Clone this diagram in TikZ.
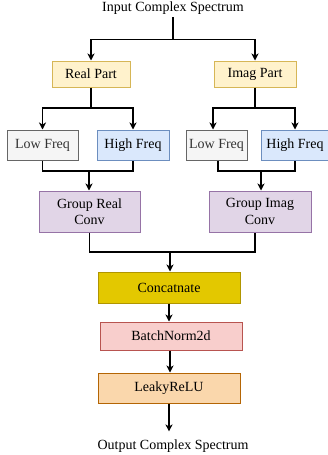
\documentclass[tikz,border=0pt]{standalone}
\usepackage{fontspec}
\setmainfont{Liberation Serif}
\usetikzlibrary{arrows.meta}
\definecolor{partF}{HTML}{FFF2CC}\definecolor{partD}{HTML}{D6B656}
\definecolor{lowF}{HTML}{F5F5F5}\definecolor{lowD}{HTML}{666666}\definecolor{lowT}{HTML}{333333}
\definecolor{highF}{HTML}{DAE8FC}\definecolor{highD}{HTML}{6C8EBF}
\definecolor{grpF}{HTML}{E1D5E7}\definecolor{grpD}{HTML}{9673A6}
\definecolor{catF}{HTML}{E3C800}\definecolor{catD}{HTML}{B09500}
\definecolor{bnF}{HTML}{F8CECC}\definecolor{bnD}{HTML}{B85450}
\definecolor{lrF}{HTML}{FAD7AC}\definecolor{lrD}{HTML}{B46504}
\tikzset{
  box/.style={draw, line width=1pt, inner sep=0pt, align=center,
    font=\fontsize{14pt}{16.5pt}\selectfont},
  txt/.style={inner xsep=0pt, inner ysep=2pt, font=\fontsize{14pt}{16.5pt}\selectfont},
  partbox/.style={box, fill=partF, draw=partD},
  lowbox/.style={box, fill=lowF, draw=lowD, text=lowT},
  highbox/.style={box, fill=highF, draw=highD},
  grpbox/.style={box, fill=grpF, draw=grpD},
  catbox/.style={box, fill=catF, draw=catD},
  bnbox/.style={box, fill=bnF, draw=bnD},
  lrbox/.style={box, fill=lrF, draw=lrD},
  conn/.style={line width=1.1pt, black},
  arr/.style={conn, -{Stealth[length=7pt,width=7pt,inset=2pt]}}
}
\begin{document}
\begin{tikzpicture}[x=1pt,y=-1pt]
\useasboundingbox (0,0) rectangle (328,455);
\node[txt] (in) at (173,8.5) {Input Complex Spectrum};
\node[partbox, minimum width=78pt, minimum height=26pt] (real) at (91,74) {Real Part};
\node[partbox, minimum width=82pt, minimum height=26pt] (imag) at (255,74) {Imag Part};
\node[lowbox, minimum width=71pt, minimum height=30pt] (lowL) at (42.5,145) {Low Freq};
\node[highbox, minimum width=72pt, minimum height=30pt] (highL) at (133,145) {High Freq};
\node[lowbox, minimum width=61pt, minimum height=30pt] (lowR) at (216.5,145) {Low Freq};
\node[highbox, minimum width=67pt, minimum height=30pt] (highR) at (295,145) {High Freq};
\node[grpbox, minimum width=101pt, minimum height=41pt] (grc) at (89.5,211.5) {Group Real\\Conv};
\node[grpbox, minimum width=102pt, minimum height=41pt] (gic) at (260,211.5) {Group Imag\\Conv};
\node[catbox, minimum width=142pt, minimum height=31pt] (cat) at (169,287.5) {Concatnate};
\node[bnbox, minimum width=142pt, minimum height=28pt] (bn) at (171,336) {BatchNorm2d};
\node[lrbox, minimum width=142pt, minimum height=30pt] (lr) at (169,388) {LeakyReLU};
\node[txt, inner ysep=8pt] (out) at (173,446) {Output Complex Spectrum};
\coordinate (j1) at (173,39.5);
\coordinate (j2) at (91,108);
\coordinate (j3) at (255,108);
\coordinate (j4) at (89,171);
\coordinate (j5) at (261,171);
\coordinate (j6) at (170,252);
\draw[conn] (in.south) -- (j1);
\draw[arr] (j1) -| (real.north);
\draw[arr] (j1) -| (imag.north);
\draw[conn] (real.south) -- (j2);
\draw[arr] (j2) -| (lowL.north);
\draw[arr] (j2) -| (highL.north);
\draw[conn] (imag.south) -- (j3);
\draw[arr] (j3) -| ([xshift=-3.5pt]lowR.north);
\draw[arr] (j3) -| (highR.north);
\draw[conn] (lowL.south) |- (j4) -| (highL.south);
\draw[arr] (j4) -- (j4 |- grc.north);
\draw[conn] ([xshift=1.5pt]lowR.south) |- (j5) -| (highR.south);
\draw[arr] (j5) -- (j5 |- gic.north);
\draw[conn] (grc.south) |- (j6) -| ([xshift=-5pt]gic.south);
\draw[arr] (j6) -- (j6 |- cat.north);
\draw[arr] (cat.south) -- (cat.south |- bn.north);
\draw[arr] ([xshift=-1pt]bn.south) -- ([xshift=-1pt]bn.south |- lr.north);
\draw[arr] (lr.south) -- (lr.south |- out.north);
\end{tikzpicture}
\end{document}
